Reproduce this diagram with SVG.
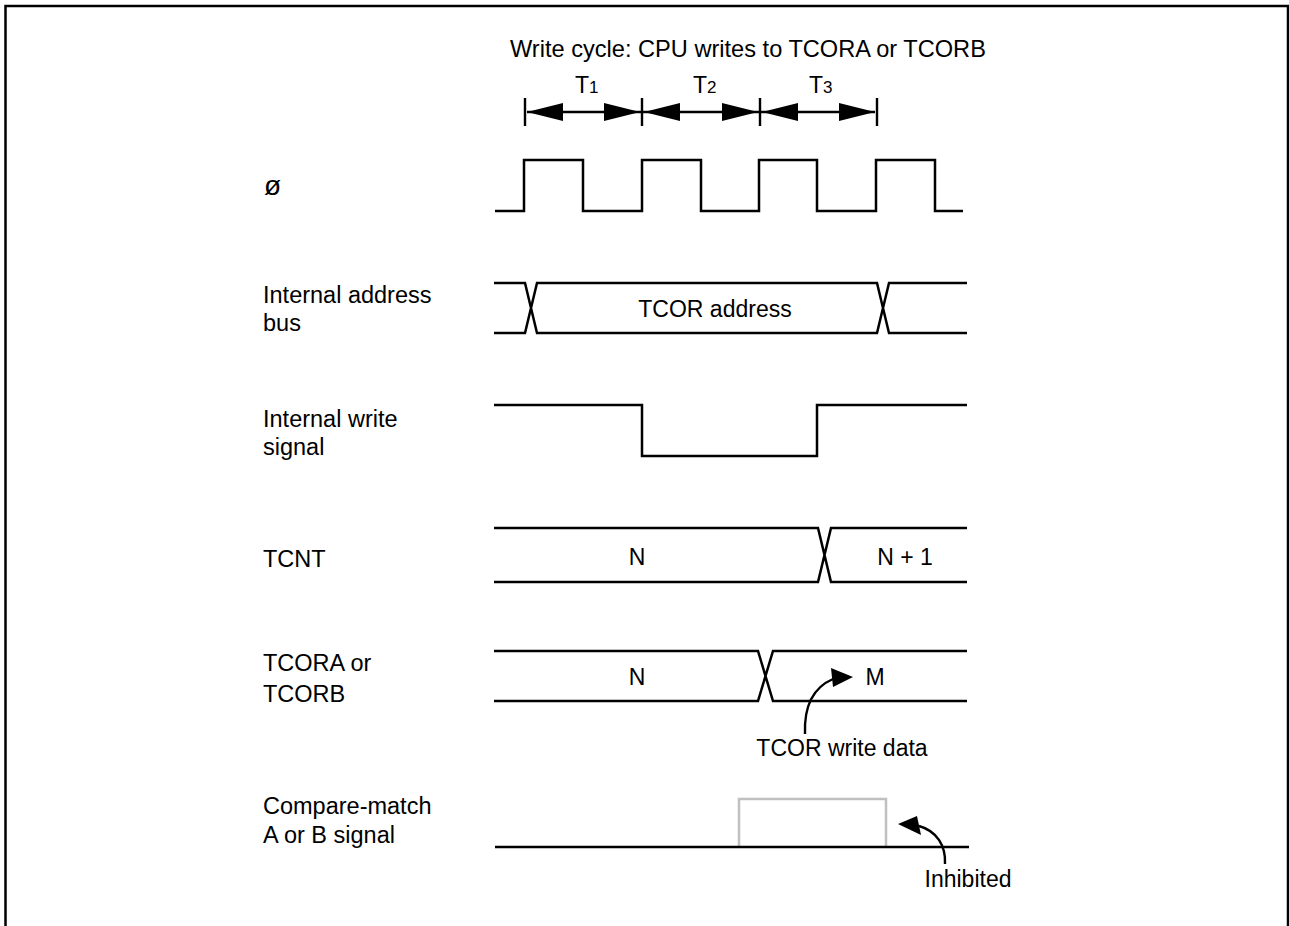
<svg xmlns="http://www.w3.org/2000/svg" width="1289" height="926" viewBox="0 0 1289 926">
<defs>
<style>
text{font-family:"Liberation Sans",Arial,sans-serif;font-size:23px;fill:#000}
.c{text-anchor:middle}
.l{font-size:23.5px}
.t{font-size:23.6px}
.sub{font-size:17px}
.w{fill:none;stroke:#000;stroke-width:2.5;stroke-linejoin:miter}
.g{fill:none;stroke:#c0c0c0;stroke-width:2.5}
.a{fill:none;stroke:#000;stroke-width:2.4}
.h{fill:#000;stroke:none}
</style>
</defs>
<rect width="1289" height="926" fill="#fff"/>
<path d="M5.5,926 V6 H1288 V926" fill="none" stroke="#000" stroke-width="2.5"/>

<g id="title">
<text class="t" x="510" y="57">Write cycle: CPU writes to TCORA or TCORB</text>
</g>

<g id="periods">
<path class="a" d="M525,98 V126 M642,98 V126 M760,98 V126 M877,98 V126 M527,112 H875"/>
<polygon class="h" points="527,112 563,103 563,121"/>
<polygon class="h" points="640,112 604,103 604,121"/>
<polygon class="h" points="644,112 680,103 680,121"/>
<polygon class="h" points="758,112 722,103 722,121"/>
<polygon class="h" points="762,112 798,103 798,121"/>
<polygon class="h" points="875,112 839,103 839,121"/>
<text x="575" y="93">T<tspan class="sub">1</tspan></text>
<text x="693" y="93">T<tspan class="sub">2</tspan></text>
<text x="809" y="93">T<tspan class="sub">3</tspan></text>
</g>

<g id="labels">
<text x="264" y="195" style="font-size:28px">ø</text>
<text class="l" x="263" y="303">Internal address</text>
<text class="l" x="263" y="331">bus</text>
<text class="l" x="263" y="427">Internal write</text>
<text class="l" x="263" y="455">signal</text>
<text class="l" x="263" y="567">TCNT</text>
<text class="l" x="263" y="671">TCORA or</text>
<text class="l" x="263" y="702">TCORB</text>
<text class="l" x="263" y="814">Compare-match</text>
<text class="l" x="263" y="843">A or B signal</text>
</g>

<g id="clock">
<path class="w" d="M495,211 H524 V160 H583 V211 H642 V160 H701 V211 H759 V160 H817 V211 H876 V160 H935 V211 H963"/>
</g>

<g id="address-bus">
<path class="w" d="M494,283 H525 L537,333 H877 L889,283 H967 M494,333 H525 L537,283 H877 L889,333 H967"/>
<text class="c" x="715" y="317">TCOR address</text>
</g>

<g id="write-signal">
<path class="w" d="M494,405 H642 V456 H817 V405 H967"/>
</g>

<g id="tcnt">
<path class="w" d="M494,528 H818 L831,582 H967 M494,582 H818 L831,528 H967"/>
<text class="c" x="637" y="565">N</text>
<text class="c" x="905" y="565">N + 1</text>
</g>

<g id="tcor">
<path class="w" d="M494,651 H758 L773,701 H967 M494,701 H758 L773,651 H967"/>
<text class="c" x="637" y="685">N</text>
<text class="c" x="875" y="685">M</text>
</g>

<g id="compare-match">
<path class="g" d="M739,847 V799 H886 V847"/>
<path class="w" d="M495,847 H969"/>
</g>

<g id="connectors">
<path class="a" d="M805,734 C804,708 812,688 833,679"/>
<polygon class="h" points="853,677 831,668 833,687"/>
<text class="c" x="842" y="756">TCOR write data</text>
<path class="a" d="M945,864 C946,846 937,831 919,826"/>
<polygon class="h" points="898,824 917,816 921,835"/>
<text class="c" x="968" y="887">Inhibited</text>
</g>
</svg>
